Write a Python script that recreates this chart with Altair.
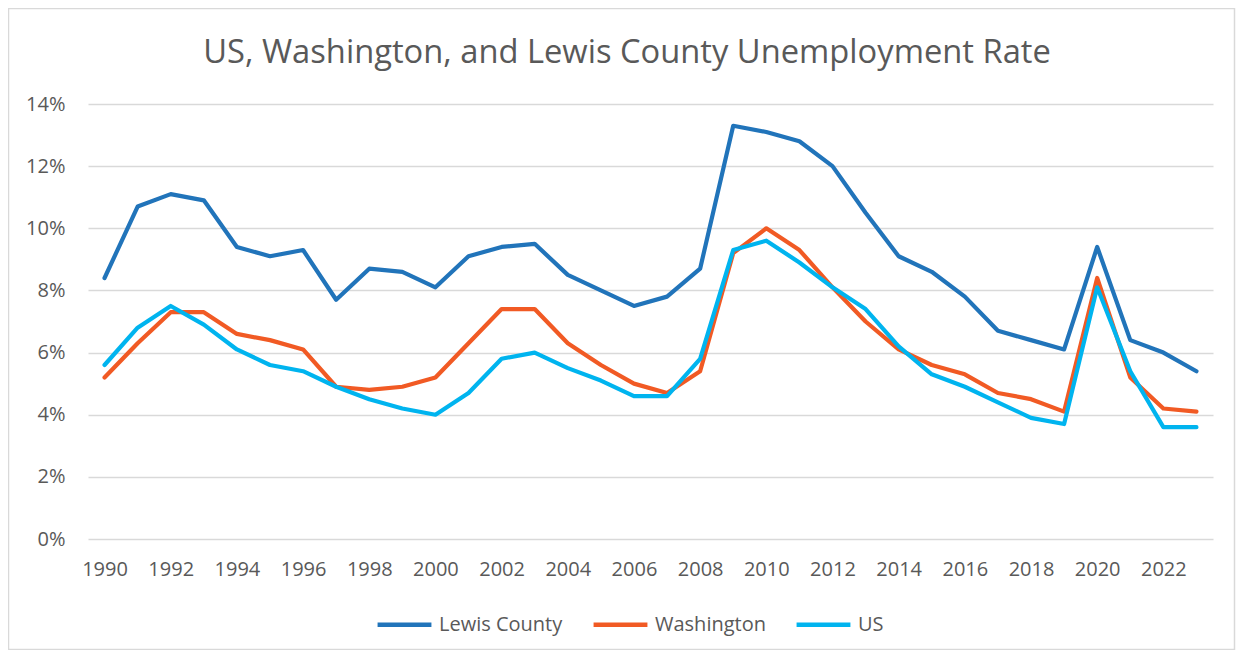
import altair as alt
import pandas as pd

years = list(range(1990, 2024))
lewis = [8.4, 10.7, 11.1, 10.9, 9.4, 9.1, 9.3, 7.7, 8.7, 8.6, 8.1, 9.1, 9.4, 9.5, 8.5, 8.0, 7.5, 7.8, 8.7,
         13.3, 13.1, 12.8, 12.0, 10.5, 9.1, 8.6, 7.8, 6.7, 6.4, 6.1, 9.4, 6.4, 6.0, 5.4]
washington = [5.2, 6.3, 7.3, 7.3, 6.6, 6.4, 6.1, 4.9, 4.8, 4.9, 5.2, 6.3, 7.4, 7.4, 6.3, 5.6, 5.0, 4.7, 5.4,
              9.2, 10.0, 9.3, 8.1, 7.0, 6.1, 5.6, 5.3, 4.7, 4.5, 4.1, 8.4, 5.2, 4.2, 4.1]
us = [5.6, 6.8, 7.5, 6.9, 6.1, 5.6, 5.4, 4.9, 4.5, 4.2, 4.0, 4.7, 5.8, 6.0, 5.5, 5.1, 4.6, 4.6, 5.8,
      9.3, 9.6, 8.9, 8.1, 7.4, 6.2, 5.3, 4.9, 4.4, 3.9, 3.7, 8.1, 5.4, 3.6, 3.6]

series_names = ["Lewis County", "Washington", "US"]
series_colors = ["#2174BA", "#F15A24", "#00B4EF"]
x_ticks = list(range(1990, 2024, 2))
y_ticks = [0, 2, 4, 6, 8, 10, 12, 14]
title_text = "US, Washington, and Lewis County Unemployment Rate"

rows = []
for name, vals in zip(series_names, [lewis, washington, us]):
    for y, v in zip(years, vals):
        rows.append({"Year": y, "Rate": v, "Series": name})
df = pd.DataFrame(rows)

FONT = "Open Sans"
GREY = "#595959"

lines = alt.Chart(df).mark_line(strokeWidth=4.2, strokeCap="round", strokeJoin="round").encode(
    x=alt.X("Year:Q", scale=alt.Scale(domain=[1989.5, 2023.5], nice=False, zero=False),
            axis=alt.Axis(values=x_ticks, format="d", title=None, grid=False, domain=False, ticks=False,
                          labelFont=FONT, labelFontSize=20, labelColor=GREY, labelPadding=20)),
    y=alt.Y("Rate:Q", scale=alt.Scale(domain=[0, 14], nice=False),
            axis=alt.Axis(values=y_ticks, labelExpr="datum.value + '%'", title=None, domain=False, ticks=False,
                          grid=True, gridColor="#D9D9D9", gridWidth=1.3,
                          labelFont=FONT, labelFontSize=20, labelColor=GREY, labelPadding=23)),
    color=alt.Color("Series:N", scale=alt.Scale(domain=series_names, range=series_colors),
                    legend=alt.Legend(title=None, orient="none", direction="horizontal",
                                      legendX=287, legendY=491,
                                      symbolType="stroke", symbolSize=2900, symbolStrokeWidth=4.5,
                                      labelFont=FONT, labelFontSize=20, labelColor=GREY,
                                      labelOffset=5, columnPadding=21)),
    order=alt.Order("Year:Q"),
)

single = pd.DataFrame({"a": [0]})

border = alt.Chart(single).mark_rect(fill=None, stroke="#D9D9D9", strokeWidth=1.5).encode(
    x=alt.value(-79.5), x2=alt.value(1146.5), y=alt.value(-95.5), y2=alt.value(545.5)
)

title = alt.Chart(single).mark_text(font=FONT, fontSize=32.7, color=GREY, align="center",
                                    baseline="alphabetic").encode(
    x=alt.value(539), y=alt.value(-41), text=alt.value(title_text)
)

chart = alt.layer(border, lines, title).properties(
    width=1125, height=435,
    padding={"left": 80, "top": 96, "right": 23, "bottom": 111},
    autosize=alt.AutoSizeParams(type="none"),
).configure_view(stroke=None)

chart.save("out.html", embed_options={"renderer": "svg", "actions": False})
